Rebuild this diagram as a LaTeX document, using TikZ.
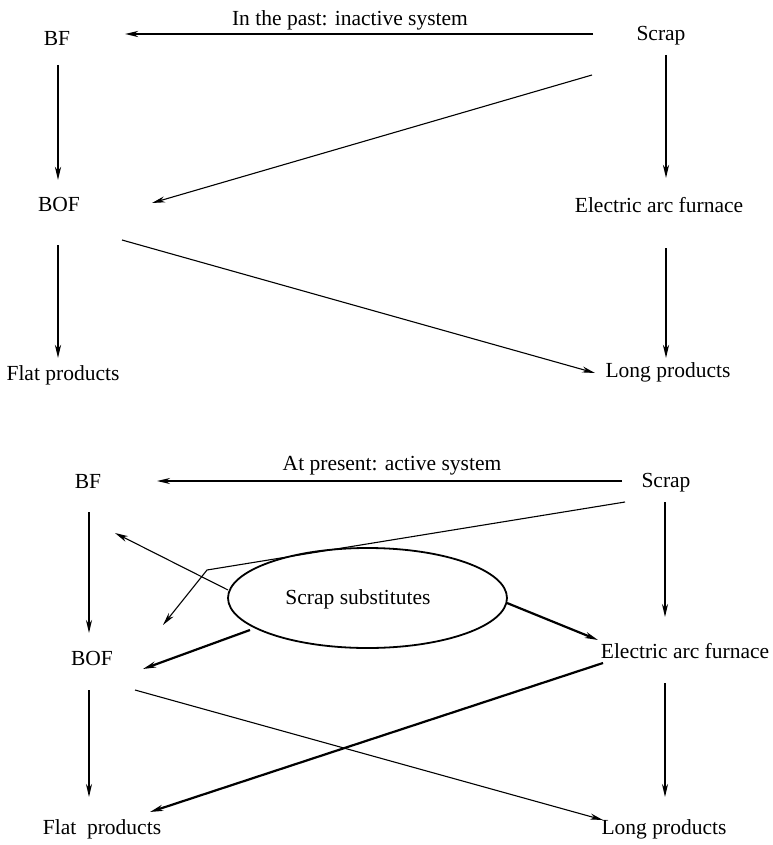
\documentclass[tikz,border=0pt]{standalone}
\usepackage{fontspec}
\setmainfont{Liberation Serif}
\usetikzlibrary{arrows.meta,shapes.geometric}
\begin{document}
\begin{tikzpicture}[x=1pt,y=-1pt,
  lbl/.style={font=\fontsize{21.5}{24}\selectfont,inner sep=0pt,anchor=base},
  arr/.style={-{Stealth[length=13pt,width=6pt,inset=4pt]}},
  heavy/.style={arr,line width=2.2pt},
  medium/.style={arr,line width=1.6pt},
  light/.style={arr,line width=1.1pt}]
\useasboundingbox (0,0) rectangle (772,845);

% ---- upper scheme: inactive system ----
\node[lbl] (labA)   at (350,26)  {In the past: inactive system};
\node[lbl] (bfA)    at (57,46)   {BF};
\node[lbl] (scrapA) at (661,40.5){Scrap};
\node[lbl] (bofA)   at (59,211)  {BOF};
\node[lbl] (eafA)   at (659,212) {Electric arc furnace};
\node[lbl] (flatA)  at (63,380)  {Flat products};
\node[lbl] (longA)  at (668,377) {Long products};

\draw[heavy] ([shift={(-68,-6.5)}]scrapA.base) -- ([shift={(68,-12)}]bfA.base);
\draw[heavy] ([shift={(1,19)}]bfA.base) -- ([shift={(-1,-31)}]bofA.base);
\draw[light] ([shift={(-69,34.5)}]scrapA.base) -- ([shift={(93,-8)}]bofA.base);
\draw[heavy] ([shift={(5,14.5)}]scrapA.base) -- ([shift={(7,-34)}]eafA.base);
\draw[heavy] ([shift={(-1,34)}]bofA.base) -- ([shift={(-5,-22)}]flatA.base);
\draw[light] ([shift={(63,29)}]bofA.base) -- ([shift={(-73,-4)}]longA.base);
\draw[heavy] ([shift={(7,36)}]eafA.base) -- ([shift={(-2,-19)}]longA.base);

% ---- lower scheme: active system ----
\node[lbl] (labB)   at (392,470) {At present: active system};
\node[lbl] (bfB)    at (88,488)  {BF};
\node[lbl] (scrapB) at (666,487) {Scrap};
\node[draw,ellipse,line width=1.8pt,minimum width=279pt,minimum height=100pt,
      inner sep=0pt] (sub) at (367.5,598) {};
\node[lbl] (subtxt) at (358,604) {Scrap substitutes};
\node[lbl] (bofB)   at (92,665)  {BOF};
\node[lbl] (eafB)   at (685,658) {Electric arc furnace};
\node[lbl] (flatB)  at (102,834) {Flat\ \ products};
\node[lbl] (longB)  at (664,834) {Long products};

\draw[medium] ([shift={(-44,-6)}]scrapB.base) -- ([shift={(69,-7)}]bfB.base);
\draw[medium] ([shift={(1,24)}]bfB.base) -- ([shift={(-3,-32)}]bofB.base);
\draw[medium] ([shift={(-1,15)}]scrapB.base) -- ([shift={(-20,-41)}]eafB.base);
\coordinate (bend) at (207,570);
\draw[light] ([shift={(-41,15)}]scrapB.base) -- (bend) -- ([shift={(71,-40)}]bofB.base);
\draw[light] ([shift={(-139.5,-8)}]sub.center) -- ([shift={(27,45)}]bfB.base);
\draw[heavy] ([shift={(-117.5,32)}]sub.center) -- ([shift={(51,4)}]bofB.base);
\draw[heavy] ([shift={(139.5,5)}]sub.center) -- ([shift={(-87,-18)}]eafB.base);
\draw[heavy] ([shift={(-82,5)}]eafB.base) -- ([shift={(48,-22)}]flatB.base);
\draw[light] ([shift={(43,25)}]bofB.base) -- ([shift={(-61,-14)}]longB.base);
\draw[medium] ([shift={(-3,25)}]bofB.base) -- ([shift={(-13,-37)}]flatB.base);
\draw[medium] ([shift={(-20,25)}]eafB.base) -- ([shift={(1,-37)}]longB.base);
\end{tikzpicture}
\end{document}
